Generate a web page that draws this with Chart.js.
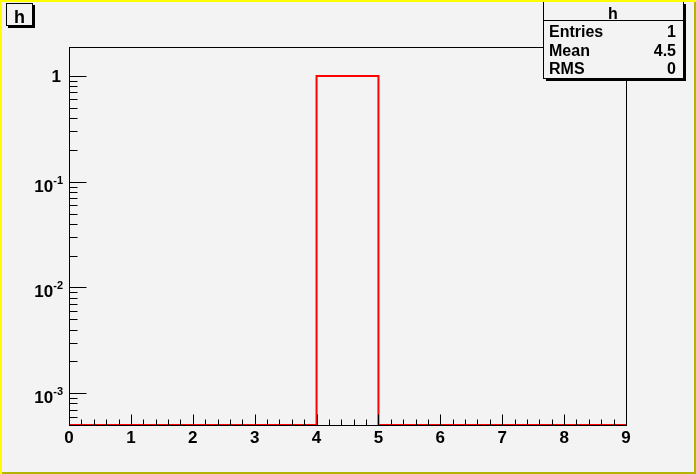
<!DOCTYPE html>
<html>
<head>
<meta charset="utf-8">
<script src="https://cdn.jsdelivr.net/npm/chart.js@4/dist/chart.umd.min.js"></script>
<style>
    html, body { margin: 0; padding: 0; background: #f3f3f3; }
    #wrap { width: 696px; height: 474px; }
</style>
</head>
<body>
<div id="wrap"><canvas id="histo" width="696" height="474"></canvas></div>
<script>
/* -------- data -------- */
const histName = 'h';
const binEdges = [0, 1, 2, 3, 4, 5, 6, 7, 8, 9];
const binCounts = [0, 0, 0, 0, 1, 0, 0, 0, 0];
const xTickValues = [0, 1, 2, 3, 4, 5, 6, 7, 8, 9];
const xTickLabels = ['0', '1', '2', '3', '4', '5', '6', '7', '8', '9'];
const yTickValues = [0.001, 0.01, 0.1, 1];
const yTickBases = ['10', '10', '10', '1'];
const yTickExps = ['-3', '-2', '-1', ''];
const yRange = [5e-4, 1.88];
const statLabels = ['Entries', 'Mean', 'RMS'];
const statValues = ['1', '4.5', '0'];

const FONT = '"Liberation Sans", Arial, Helvetica, sans-serif';
const BG = '#f3f3f3';

function line(ctx, x1, y1, x2, y2) {
    ctx.beginPath();
    ctx.moveTo(x1, y1);
    ctx.lineTo(x2, y2);
    ctx.stroke();
}

const rootStyle = {
    id: 'rootStyle',
    beforeDraw(chart) {
        const ctx = chart.ctx;
        ctx.save();
        ctx.fillStyle = BG;
        ctx.fillRect(0, 0, chart.width, chart.height);
        ctx.restore();
    },
    afterDatasetsDraw(chart) {
        const { ctx, chartArea: a, scales } = chart;
        const x = scales.x, y = scales.y;
        ctx.save();

        // histogram outline, empty bins sit on the axis
        const yPix = (c) => (c > 0 ? y.getPixelForValue(c) : a.bottom);
        ctx.strokeStyle = '#ff0000';
        ctx.lineWidth = 2;
        ctx.beginPath();
        ctx.moveTo(x.getPixelForValue(binEdges[0]), yPix(binCounts[0]));
        binCounts.forEach((c, i) => {
            const py = yPix(c);
            ctx.lineTo(x.getPixelForValue(binEdges[i]), py);
            ctx.lineTo(x.getPixelForValue(binEdges[i + 1]), py);
        });
        ctx.stroke();

        // frame
        ctx.strokeStyle = '#000';
        ctx.lineWidth = 1;
        ctx.strokeRect(a.left + 0.5, a.top + 0.5, a.right - a.left, a.bottom - a.top);

        // x ticks (inside, pointing up)
        const by = a.bottom + 0.5;
        xTickValues.forEach((v, i) => {
            const px = Math.round(x.getPixelForValue(v)) + 0.5;
            line(ctx, px, by, px, by - 11);
            if (i < xTickValues.length - 1) {
                const step = (xTickValues[i + 1] - v) / 5;
                for (let k = 1; k < 5; k++) {
                    const mx = Math.round(x.getPixelForValue(v + k * step)) + 0.5;
                    line(ctx, mx, by, mx, by - 6);
                }
            }
        });

        // y ticks (inside, pointing right)
        const lx = a.left + 0.5;
        yTickValues.forEach((v) => {
            const py = Math.round(y.getPixelForValue(v)) + 0.5;
            line(ctx, lx, py, lx + 17, py);
        });
        const decades = [1e-4].concat(yTickValues);
        decades.forEach((d) => {
            for (let m = 2; m <= 9; m++) {
                const v = m * d;
                if (v < y.min || v > y.max) continue;
                const py = Math.round(y.getPixelForValue(v)) + 0.5;
                line(ctx, lx, py, lx + 8, py);
            }
        });

        // tick labels
        ctx.fillStyle = '#000';
        ctx.textBaseline = 'alphabetic';
        ctx.font = 'bold 17px ' + FONT;
        ctx.textAlign = 'center';
        xTickValues.forEach((v, i) => {
            ctx.fillText(xTickLabels[i], x.getPixelForValue(v), a.bottom + 18);
        });
        ctx.textAlign = 'right';
        yTickValues.forEach((v, i) => {
            const py = y.getPixelForValue(v);
            if (yTickExps[i] === '') {
                ctx.font = 'bold 17px ' + FONT;
                ctx.fillText(yTickBases[i], a.left - 8, py + 6);
            } else {
                ctx.font = 'bold 11px ' + FONT;
                ctx.fillText(yTickExps[i], a.left - 6, py + 2);
                const w = ctx.measureText(yTickExps[i]).width;
                ctx.font = 'bold 17px ' + FONT;
                ctx.fillText(yTickBases[i], a.left - 6 - w, py + 10);
            }
        });
        ctx.restore();
    },
    afterDraw(chart) {
        const ctx = chart.ctx;
        const W = chart.width, H = chart.height;
        ctx.save();

        // title box
        ctx.fillStyle = '#000';
        ctx.fillRect(8, 5, 27, 23);
        ctx.fillStyle = BG;
        ctx.fillRect(6, 3, 27, 23);
        ctx.strokeStyle = '#000';
        ctx.lineWidth = 1;
        ctx.strokeRect(6.5, 3.5, 26, 22);
        ctx.fillStyle = '#000';
        ctx.font = 'bold 18px ' + FONT;
        ctx.textAlign = 'center';
        ctx.fillText(histName, 19.5, 23);

        // stats box
        const sx = 543, sy = 1, sw = 140, sh = 77;
        ctx.fillStyle = '#000';
        ctx.fillRect(sx + 3, sy + 3, sw, sh);
        ctx.fillStyle = BG;
        ctx.fillRect(sx, sy, sw, sh);
        ctx.strokeRect(sx + 0.5, sy + 0.5, sw, sh);
        line(ctx, sx, 20.5, sx + sw, 20.5);
        ctx.fillStyle = '#000';
        ctx.font = 'bold 16px ' + FONT;
        ctx.textAlign = 'center';
        ctx.fillText(histName, sx + sw / 2, 19);
        statLabels.forEach((lab, i) => {
            const base = 37 + i * 18.5;
            ctx.textAlign = 'left';
            ctx.fillText(lab, 549, base);
            ctx.textAlign = 'right';
            ctx.fillText(statValues[i], 676, base);
        });

        // canvas bevel border
        ctx.fillStyle = '#ffff00';
        ctx.fillRect(0, 0, W, 2);
        ctx.fillRect(0, 0, 2, H);
        ctx.fillStyle = '#b4b400';
        ctx.fillRect(W - 2, 2, 2, H - 2);
        ctx.fillRect(2, H - 2, W - 2, 2);
        ctx.restore();
    },
};

new Chart(document.getElementById('histo'), {
    type: 'line',
    data: {
        datasets: [
            {
                label: histName,
                data: binCounts.map((c, i) => ({ x: (binEdges[i] + binEdges[i + 1]) / 2, y: c })),
                showLine: false,
                pointRadius: 0,
            },
        ],
    },
    options: {
        responsive: false,
        animation: false,
        devicePixelRatio: 1,
        layout: { padding: { left: 69, right: 70, top: 47, bottom: 49 } },
        plugins: { legend: { display: false }, tooltip: { enabled: false } },
        scales: {
            x: { type: 'linear', min: binEdges[0], max: binEdges[binEdges.length - 1], display: false },
            y: { type: 'logarithmic', min: yRange[0], max: yRange[1], display: false },
        },
    },
    plugins: [rootStyle],
});
</script>
</body>
</html>
